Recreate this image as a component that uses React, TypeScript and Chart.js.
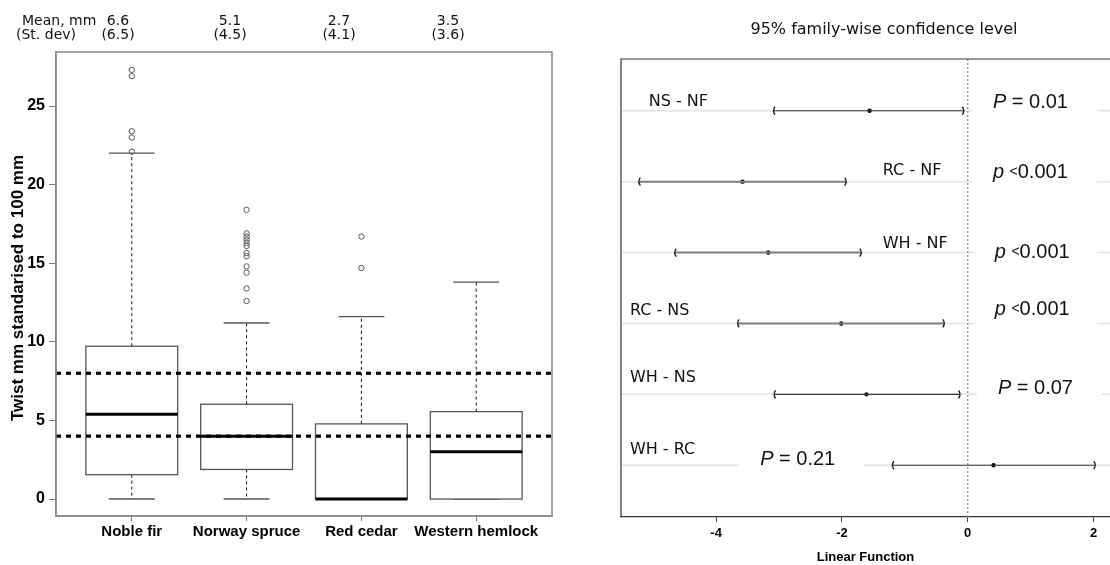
import React, { useEffect, useRef } from 'react';
import { Chart, registerables } from 'chart.js';
Chart.register(...registerables);

// ---------------- Left panel data (box plot) ----------------
const CATEGORIES = ['Noble fir', 'Norway spruce', 'Red cedar', 'Western hemlock'];
const MEAN_LABELS = ['6.6', '5.1', '2.7', '3.5'];
const SD_LABELS = ['(6.5)', '(4.5)', '(4.1)', '(3.6)'];
const WHISKER_LOW = [0, 0, 0, 0];
const Q1 = [1.55, 1.88, 0, 0];
const MEDIAN = [5.4, 4.0, 0, 3.0];
const Q3 = [9.72, 6.03, 4.78, 5.56];
const WHISKER_HIGH = [22.0, 11.2, 11.6, 13.8];
const OUTLIERS_NF = [27.3, 26.9, 23.4, 23.0, 22.1];
const OUTLIERS_NS = [18.4, 16.9, 16.7, 16.5, 16.3, 16.1, 15.65, 15.45, 14.8, 14.4, 13.4, 12.6];
const OUTLIERS_RC = [16.7, 14.7];
const OUTLIERS_WH: number[] = [];
const REFERENCE_LINES = [8, 4];
const Y_TICKS = [0, 5, 10, 15, 20, 25];

// ---------------- Right panel data (Tukey intervals) ----------------
const COMPARISONS = ['NS - NF', 'RC - NF', 'WH - NF', 'RC - NS', 'WH - NS', 'WH - RC'];
const DIFF = [-1.56, -3.58, -3.17, -2.01, -1.61, 0.41];
const LOWER = [-3.08, -5.22, -4.65, -3.65, -3.07, -1.19];
const UPPER = [-0.07, -1.94, -1.70, -0.38, -0.13, 2.02];
const P_SYMBOLS = ['P', 'p', 'p', 'p', 'P', 'P'];
const P_VALUES = ['= 0.01', '<0.001', '<0.001', '<0.001', '= 0.07', '= 0.21'];
const X_TICKS = [-4, -2, 0, 2];

// ---------------- Layout / style constants ----------------
const L_X_MIN = -0.66;
const L_X_MAX = 3.66;
const L_Y_MIN = -1.08;
const L_Y_MAX = 28.44;
const BOX_HALF = 0.4;
const CAP_HALF = 0.2;
const MEAN_TEXT_X = [118, 230, 339, 448];

const R_X_MIN = -5.512;
const R_X_MAX = 2.262;
const R_Y_MIN = -0.73;
const R_Y_MAX = 5.73;
const ROW_LABEL_X = [-5.07, -1.35, -1.35, -5.37, -5.37, -5.37];
const ROW_LABEL_DY = [-5, -7, -5, -8, -12, -11];
const P_LABEL_X = [0.40, 0.40, 0.43, 0.43, 0.48, -3.30];
const P_LABEL_DY = [-3, -4, 5, -8, 0, 0];
const ROW_COLORS = ['#3a3a3a', '#808080', '#808080', '#808080', '#3a3a3a', '#3a3a3a'];
const ROW_WIDTHS = [1.2, 2, 2, 2, 1.2, 1.2];

const SANS_BOLD = '"Liberation Sans", Arial, sans-serif';
const DEJAVU = '"DejaVu Sans", Verdana, sans-serif';

function LeftChart() {
  const ref = useRef<HTMLCanvasElement>(null);
  useEffect(() => {
    const outliers = [OUTLIERS_NF, OUTLIERS_NS, OUTLIERS_RC, OUTLIERS_WH].flatMap((arr, i) =>
      arr.map((v) => ({ x: i, y: v }))
    );
    const boxPlugin = {
      id: 'boxes',
      beforeDatasetsDraw(chart: any) {
        const { ctx, scales } = chart;
        const x = scales.x;
        const y = scales.y;
        ctx.save();
        CATEGORIES.forEach((_, i) => {
          const cx = x.getPixelForValue(i);
          const bl = x.getPixelForValue(i - BOX_HALF);
          const br = x.getPixelForValue(i + BOX_HALF);
          const cl = x.getPixelForValue(i - CAP_HALF);
          const cr = x.getPixelForValue(i + CAP_HALF);
          const yq1 = y.getPixelForValue(Q1[i]);
          const yq3 = y.getPixelForValue(Q3[i]);
          const ylo = y.getPixelForValue(WHISKER_LOW[i]);
          const yhi = y.getPixelForValue(WHISKER_HIGH[i]);
          const ymed = y.getPixelForValue(MEDIAN[i]);
          ctx.strokeStyle = '#111';
          ctx.lineWidth = 1;
          ctx.setLineDash([3, 3]);
          ctx.beginPath();
          ctx.moveTo(cx, yq3);
          ctx.lineTo(cx, yhi);
          if (yq1 < ylo - 1) {
            ctx.moveTo(cx, yq1);
            ctx.lineTo(cx, ylo);
          }
          ctx.stroke();
          ctx.setLineDash([]);
          ctx.strokeStyle = '#555';
          ctx.lineWidth = 1.3;
          ctx.beginPath();
          ctx.moveTo(cl, yhi);
          ctx.lineTo(cr, yhi);
          ctx.moveTo(cl, ylo);
          ctx.lineTo(cr, ylo);
          ctx.stroke();
          ctx.fillStyle = '#fff';
          ctx.fillRect(bl, yq3, br - bl, yq1 - yq3);
          ctx.strokeRect(bl, yq3, br - bl, yq1 - yq3);
          ctx.strokeStyle = '#000';
          ctx.lineWidth = 3;
          ctx.beginPath();
          ctx.moveTo(bl, ymed);
          ctx.lineTo(br, ymed);
          ctx.stroke();
        });
        ctx.restore();
      },
      afterDraw(chart: any) {
        const { ctx, chartArea } = chart;
        ctx.save();
        ctx.strokeStyle = '#888';
        ctx.lineWidth = 1.5;
        ctx.strokeRect(chartArea.left, chartArea.top, chartArea.right - chartArea.left, chartArea.bottom - chartArea.top);
        ctx.fillStyle = '#111';
        ctx.font = '14px ' + DEJAVU;
        ctx.textBaseline = 'alphabetic';
        ctx.textAlign = 'left';
        ctx.fillText('Mean, mm', 22, 25);
        ctx.fillText('(St. dev)', 16, 39);
        ctx.textAlign = 'center';
        MEAN_LABELS.forEach((m, i) => ctx.fillText(m, MEAN_TEXT_X[i], 25));
        SD_LABELS.forEach((s, i) => ctx.fillText(s, MEAN_TEXT_X[i], 39));
        ctx.translate(18, 288);
        ctx.rotate(-Math.PI / 2);
        ctx.font = 'bold 17px ' + SANS_BOLD;
        ctx.textBaseline = 'middle';
        ctx.fillStyle = '#000';
        ctx.fillText('Twist mm standarised to 100 mm', 0, 0);
        ctx.restore();
      },
    };
    const chart = new Chart(ref.current!, {
      type: 'scatter',
      data: {
        datasets: [
          {
            data: outliers,
            pointRadius: 2.7,
            borderColor: '#555',
            backgroundColor: 'rgba(0,0,0,0)',
            borderWidth: 1,
          } as any,
          ...REFERENCE_LINES.map((v) => ({
            data: [
              { x: L_X_MIN, y: v },
              { x: L_X_MAX, y: v },
            ],
            showLine: true,
            borderColor: '#000',
            borderWidth: 3.2,
            borderDash: [5, 5],
            pointRadius: 0,
          })),
        ],
      },
      options: {
        responsive: false,
        animation: false,
        devicePixelRatio: 1,
        events: [],
        layout: { padding: { top: 52, right: 28, left: 0, bottom: 0 } },
        plugins: { legend: { display: false }, tooltip: { enabled: false } },
        scales: {
          x: {
            type: 'linear',
            min: L_X_MIN,
            max: L_X_MAX,
            afterBuildTicks: (s: any) => {
              s.ticks = CATEGORIES.map((_, i) => ({ value: i }));
            },
            afterFit: (s: any) => {
              s.height = 49;
            },
            ticks: {
              callback: (v: any) => CATEGORIES[v as number] ?? '',
              font: { family: SANS_BOLD, size: 15, weight: 'bold' },
              color: '#000',
              padding: 2,
              maxRotation: 0,
              autoSkip: false,
            },
            grid: { drawOnChartArea: false, drawTicks: true, tickLength: 5, color: '#777', lineWidth: 1 },
            border: { display: true, color: '#888', width: 1.5 },
          },
          y: {
            type: 'linear',
            min: L_Y_MIN,
            max: L_Y_MAX,
            afterBuildTicks: (s: any) => {
              s.ticks = Y_TICKS.map((v) => ({ value: v }));
            },
            afterFit: (s: any) => {
              s.width = 56;
            },
            ticks: {
              font: { family: SANS_BOLD, size: 16, weight: 'bold' },
              color: '#000',
              padding: 4,
            },
            grid: { drawOnChartArea: false, drawTicks: true, tickLength: 7, color: '#777', lineWidth: 1 },
            border: { display: true, color: '#888', width: 1.5 },
          },
        },
      } as any,
      plugins: [boxPlugin],
    });
    return () => chart.destroy();
  }, []);
  return <canvas ref={ref} width={580} height={565} style={{ position: 'absolute', left: 0, top: 0 }} />;
}

function measurePLabel(ctx: CanvasRenderingContext2D, sym: string, rest: string) {
  ctx.font = 'italic 20px ' + SANS_BOLD;
  let w = ctx.measureText(sym).width;
  ctx.font = '20px ' + SANS_BOLD;
  w += ctx.measureText(' ').width;
  if (rest.startsWith('<')) {
    ctx.font = '14px ' + SANS_BOLD;
    w += ctx.measureText('<').width;
    ctx.font = '20px ' + SANS_BOLD;
    w += ctx.measureText(rest.slice(1)).width;
  } else {
    w += ctx.measureText(rest).width;
  }
  return w;
}

function drawPLabel(ctx: CanvasRenderingContext2D, x: number, yb: number, sym: string, rest: string) {
  ctx.textAlign = 'left';
  ctx.textBaseline = 'alphabetic';
  ctx.font = 'italic 20px ' + SANS_BOLD;
  ctx.fillText(sym, x, yb);
  let cx = x + ctx.measureText(sym).width;
  ctx.font = '20px ' + SANS_BOLD;
  cx += ctx.measureText(' ').width;
  if (rest.startsWith('<')) {
    ctx.font = '14px ' + SANS_BOLD;
    ctx.fillText('<', cx, yb - 2);
    cx += ctx.measureText('<').width;
    ctx.font = '20px ' + SANS_BOLD;
    ctx.fillText(rest.slice(1), cx, yb);
  } else {
    ctx.fillText(rest, cx, yb);
  }
}

function RightChart() {
  const ref = useRef<HTMLCanvasElement>(null);
  useEffect(() => {
    const intervalPlugin = {
      id: 'intervals',
      beforeDatasetsDraw(chart: any) {
        const { ctx, chartArea, scales } = chart;
        const x = scales.x;
        const y = scales.y;
        ctx.save();
        ctx.strokeStyle = '#e2e2e2';
        ctx.lineWidth = 1.5;
        COMPARISONS.forEach((_, i) => {
          const yy = y.getPixelForValue(i);
          ctx.beginPath();
          ctx.moveTo(chartArea.left, yy);
          ctx.lineTo(chartArea.right, yy);
          ctx.stroke();
        });
        ctx.fillStyle = '#fff';
        COMPARISONS.forEach((_, i) => {
          const yy = y.getPixelForValue(i);
          const lx = x.getPixelForValue(P_LABEL_X[i]);
          const w = measurePLabel(ctx, P_SYMBOLS[i], P_VALUES[i]);
          ctx.fillRect(lx - 21, yy - 4, w + 50, 8);
        });
        const x0 = x.getPixelForValue(0);
        ctx.strokeStyle = '#999';
        ctx.lineWidth = 1.5;
        ctx.setLineDash([2, 2]);
        ctx.beginPath();
        ctx.moveTo(x0, chartArea.top);
        ctx.lineTo(x0, chartArea.bottom);
        ctx.stroke();
        ctx.setLineDash([]);
        ctx.restore();
      },
      afterDatasetsDraw(chart: any) {
        const { ctx, scales } = chart;
        const x = scales.x;
        const y = scales.y;
        ctx.save();
        COMPARISONS.forEach((label, i) => {
          const yy = y.getPixelForValue(i);
          ctx.strokeStyle = '#222';
          ctx.lineWidth = 1.4;
          const lx = x.getPixelForValue(LOWER[i]);
          const ux = x.getPixelForValue(UPPER[i]);
          ctx.beginPath();
          ctx.moveTo(lx + 1, yy - 4);
          ctx.quadraticCurveTo(lx - 2, yy, lx + 1, yy + 4);
          ctx.moveTo(ux - 1, yy - 4);
          ctx.quadraticCurveTo(ux + 2, yy, ux - 1, yy + 4);
          ctx.stroke();
          ctx.fillStyle = '#111';
          ctx.font = '16px ' + DEJAVU;
          ctx.textAlign = 'left';
          ctx.textBaseline = 'alphabetic';
          ctx.fillText(label, x.getPixelForValue(ROW_LABEL_X[i]), yy + ROW_LABEL_DY[i]);
          drawPLabel(ctx, x.getPixelForValue(P_LABEL_X[i]), yy + P_LABEL_DY[i], P_SYMBOLS[i], P_VALUES[i]);
        });
        ctx.restore();
      },
      afterDraw(chart: any) {
        const { ctx, chartArea } = chart;
        ctx.save();
        ctx.strokeStyle = '#333';
        ctx.lineWidth = 1.2;
        ctx.beginPath();
        ctx.moveTo(chartArea.left, chartArea.bottom);
        ctx.lineTo(chartArea.left, chartArea.top);
        ctx.lineTo(chartArea.right, chartArea.top);
        ctx.stroke();
        ctx.fillStyle = '#111';
        ctx.font = '16px ' + DEJAVU;
        ctx.textAlign = 'center';
        ctx.textBaseline = 'alphabetic';
        ctx.fillText('95% family-wise confidence level', 304, 34);
        ctx.restore();
      },
    };
    const chart = new Chart(ref.current!, {
      type: 'scatter',
      data: {
        datasets: [
          ...COMPARISONS.map((_, i) => ({
            data: [
              { x: LOWER[i], y: i },
              { x: UPPER[i], y: i },
            ],
            showLine: true,
            borderColor: ROW_COLORS[i],
            borderWidth: ROW_WIDTHS[i],
            pointRadius: 0,
          })),
          {
            data: DIFF.map((d, i) => ({ x: d, y: i })),
            pointRadius: 2.2,
            backgroundColor: '#000',
            borderColor: '#000',
            borderWidth: 0,
          } as any,
        ],
      },
      options: {
        responsive: false,
        animation: false,
        devicePixelRatio: 1,
        events: [],
        layout: { padding: { top: 59, right: 0, left: 41, bottom: 0 } },
        plugins: { legend: { display: false }, tooltip: { enabled: false } },
        scales: {
          x: {
            type: 'linear',
            min: R_X_MIN,
            max: R_X_MAX,
            afterBuildTicks: (s: any) => {
              s.ticks = X_TICKS.map((v) => ({ value: v }));
            },
            afterFit: (s: any) => {
              s.height = 48;
            },
            ticks: {
              font: { family: SANS_BOLD, size: 13, weight: 'bold' },
              color: '#000',
              padding: 4,
              maxRotation: 0,
            },
            title: {
              display: true,
              text: 'Linear Function',
              font: { family: SANS_BOLD, size: 13, weight: 'bold' },
              color: '#000',
              padding: { top: 0, bottom: 0 },
            },
            grid: { drawOnChartArea: false, drawTicks: true, tickLength: 5, color: '#444', lineWidth: 1 },
            border: { display: true, color: '#333', width: 1.2 },
          },
          y: {
            type: 'linear',
            min: R_Y_MIN,
            max: R_Y_MAX,
            reverse: true,
            display: false,
          },
        },
      } as any,
      plugins: [intervalPlugin],
    });
    return () => chart.destroy();
  }, []);
  return <canvas ref={ref} width={534} height={565} style={{ position: 'absolute', left: 580, top: 0 }} />;
}

export default function App() {
  return (
    <div style={{ position: 'absolute', left: 0, top: 0, width: 1110, height: 565, background: '#fff', overflow: 'hidden' }}>
      <LeftChart />
      <RightChart />
    </div>
  );
}
